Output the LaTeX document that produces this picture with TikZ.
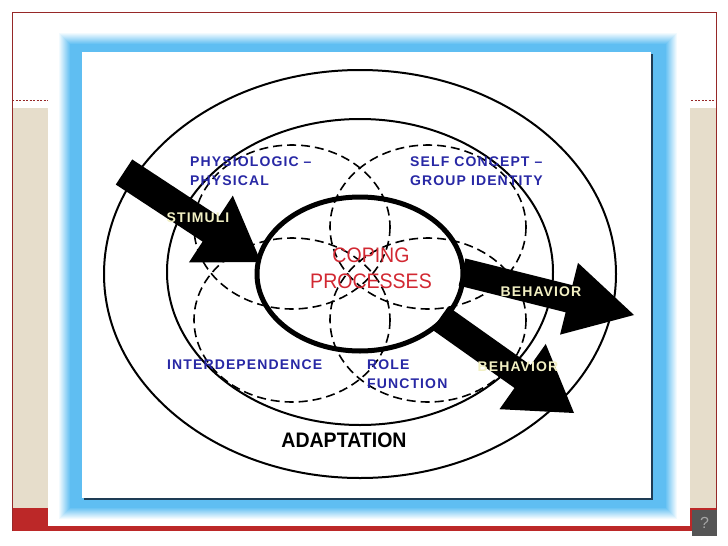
\documentclass[tikz,border=0pt]{standalone}
\usepackage{fontspec}
\setmainfont{Liberation Sans}
\newfontfamily\labfont[LetterSpace=8]{Liberation Sans}
\newfontfamily\bigfont[FakeStretch=0.93]{Liberation Sans}
\usetikzlibrary{calc}
\definecolor{slidered}{RGB}{188,40,40}
\definecolor{slideline}{RGB}{150,40,40}
\definecolor{beige}{RGB}{230,221,203}
\definecolor{glowblue}{RGB}{95,190,242}
\definecolor{labblue}{RGB}{40,40,165}
\definecolor{copred}{RGB}{210,40,50}
\definecolor{cream}{RGB}{242,240,195}
\definecolor{shadowc}{RGB}{30,60,85}
\definecolor{qgrey}{RGB}{85,85,85}
\newcommand{\blkarrow}[5]{%
  \coordinate (#1h) at ($(#2)!#5!(#1)$);
  \fill[black] ($(#1)!#3!90:(#2)$) -- ($(#1h)!#3!-90:(#1)$) -- ($(#1h)!#4!-90:(#1)$)
     -- (#2) -- ($(#1h)!#4!90:(#1)$) -- ($(#1h)!#3!90:(#1)$) -- ($(#1)!#3!-90:(#2)$) -- cycle;}
\begin{document}
\begin{tikzpicture}[x=1pt,y=-1pt,
  ring/.style={line width=2pt},
  dcircle/.style={line width=1.6pt, dash pattern=on 9pt off 5pt},
  lab/.style={text=labblue, font=\labfont\bfseries\fontsize{14}{18.5}\selectfont, align=left, inner sep=0pt},
  arrowtxt/.style={text=cream, font=\labfont\bfseries\fontsize{14}{16}\selectfont, inner sep=0pt},
]
\fill[white] (0,0) rectangle (728,546);
\useasboundingbox (0,0) rectangle (728,546);
% slide background
\fill[beige] (12,108) rectangle (716,508);
\fill[slidered] (12,508) rectangle (716,531);
\draw[slideline, line width=0.8pt] (12,531) -- (12,12) -- (716,12) -- (716,531);
\draw[slideline, line width=0.8pt, dash pattern=on 2pt off 1.5pt] (12,100) -- (716,100);
% white panel
\fill[white] (48,28) rectangle (690,526);
% blue glow frame
\foreach \i in {0,...,12} {
  \pgfmathtruncatemacro{\p}{\i*100/12}
  \fill[glowblue!\p!white] ({58+\i},{32+\i}) rectangle ({678-\i},{520-\i});
}
\fill[white] (82,52) rectangle (651,498);
\draw[shadowc, line width=2pt] (84,499) -- (652,499) -- (652,54);
% question box
\fill[qgrey] (692,510) rectangle (717,536);
\node[text=gray!70, font=\fontsize{16}{16}\selectfont, inner sep=0pt] (qm) at (704.5,523) {?};
% rings
\draw[ring] (360,274) ellipse [x radius=256, y radius=204];
\draw[ring] (360,272) ellipse [x radius=193, y radius=153];
% dashed circles
\draw[dcircle] (292,227) ellipse [x radius=98, y radius=82];
\draw[dcircle] (428,227) ellipse [x radius=98, y radius=82];
\draw[dcircle] (292,320) ellipse [x radius=98, y radius=82];
\draw[dcircle] (428,320) ellipse [x radius=98, y radius=82];
% arrows
\coordinate (sA) at (124,172); \coordinate (sB) at (261,262);
\coordinate (bA) at (462,272); \coordinate (bB) at (634,315);
\coordinate (cA) at (440,318); \coordinate (cB) at (574,413);
\blkarrow{sA}{sB}{15pt}{40pt}{60pt}
\blkarrow{bA}{bB}{14pt}{37pt}{67pt}
\blkarrow{cA}{cB}{14pt}{40pt}{63pt}
% coping ellipse
\draw[line width=5pt] (360,274) ellipse [x radius=103, y radius=77];
% labels
\node[lab, anchor=north west] (phys) at (190,157) {PHYSIOLOGIC –\\PHYSICAL};
\node[lab, anchor=north west] (self) at (410,157) {SELF CONCEPT –\\GROUP IDENTITY};
\node[lab, anchor=north west] (inter) at (167,360) {INTERDEPENDENCE};
\node[lab, anchor=north west] (role) at (367,360) {ROLE\\FUNCTION};
\node[text=copred, font=\bigfont\fontsize{21}{26}\selectfont, align=center, inner sep=0pt] (cop) at (371,268.5) {COPING\\PROCESSES};
\node[font=\bigfont\bfseries\fontsize{21}{24}\selectfont, inner sep=0pt] (adapt) at (344,440.5) {ADAPTATION};
\node[arrowtxt] (stim) at (198,218) {STIMULI};
\node[arrowtxt] (beh1) at (541,292) {BEHAVIOR};
\node[arrowtxt] (beh2) at (518,367) {BEHAVIOR};
\end{tikzpicture}
\end{document}
